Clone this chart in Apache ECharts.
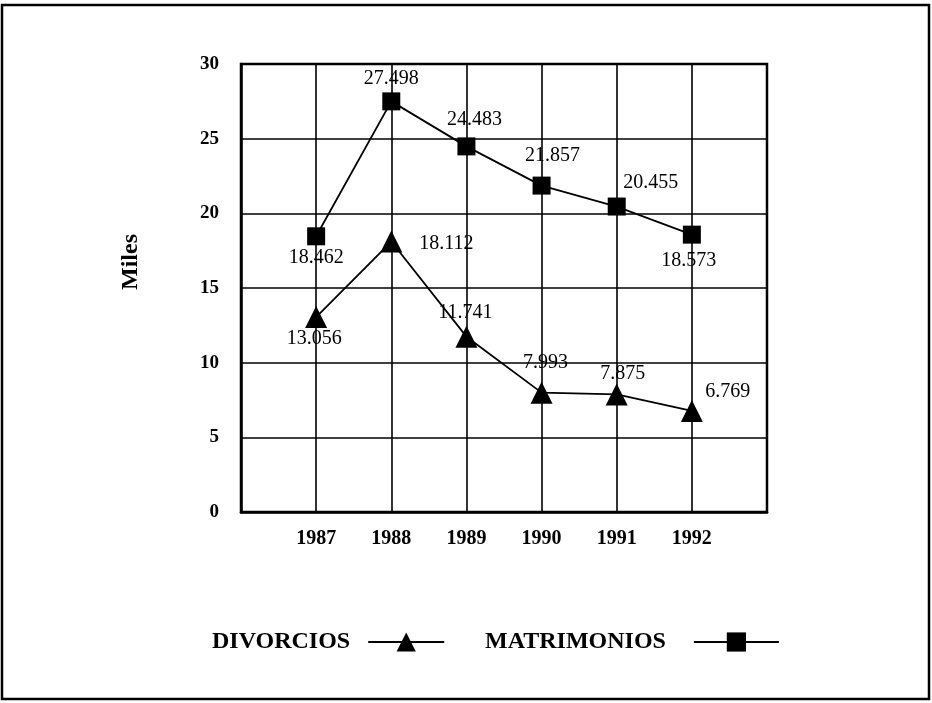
<!DOCTYPE html>
<html><head><meta charset="utf-8">
<script src="https://cdn.jsdelivr.net/npm/echarts@6/dist/echarts.min.js"></script>
<style>html,body{margin:0;padding:0;background:#fff}#c{width:932px;height:703px}</style>
</head><body><div id="c"></div>
<script>
const years = [1987, 1988, 1989, 1990, 1991, 1992];
const divorcios = [13.056, 18.112, 11.741, 7.993, 7.875, 6.769];
const matrimonios = [18.462, 27.498, 24.483, 21.857, 20.455, 18.573];
const yTicks = [0, 5, 10, 15, 20, 25, 30];
const seriesNames = ['DIVORCIOS', 'MATRIMONIOS'];

// label offsets (style only) relative to marker centre
const divOff = [[-2,22],[55,2],[-1,-24],[4,-30],[6,-21],[36,-19]];
const matOff = [[0,21],[0,-23],[8,-27],[11,-30],[34,-24],[-3,26]];
const FONT = 'Liberation Serif';

function fmt(v){ return v.toFixed(3); }
function build(vals, offs){
  return vals.map((v,i)=>({
    value:[years[i], v],
    label:{position:'inside', offset:offs[i]}
  }));
}

const legendText = {fontFamily:FONT, fontWeight:'bold', fontSize:24, color:'#000'};
const chart = echarts.init(document.getElementById('c'));
chart.setOption({
  backgroundColor:'#fff',
  animation:false,
  graphic:[{type:'rect', shape:{x:2,y:5,width:927,height:694}, style:{fill:'none', stroke:'#000', lineWidth:2.5}}],
  grid:{left:241, top:64, width:526, height:448, show:true, borderColor:'#000', borderWidth:2.5, containLabel:false},
  legend:[
    {left:207, top:625, align:'right', itemWidth:76, itemHeight:24,
     textStyle:Object.assign({padding:[0,13,0,0]}, legendText), data:[seriesNames[0]]},
    {left:480, top:625, align:'right', itemWidth:85, itemHeight:24,
     textStyle:Object.assign({padding:[0,23,0,0]}, legendText), data:[seriesNames[1]]}
  ],
  xAxis:{
    type:'value', min:1986, max:1993, interval:1,
    axisLine:{show:true, lineStyle:{color:'#000', width:2.5}},
    axisTick:{show:false},
    splitLine:{show:true, lineStyle:{color:'#000', width:1.6}},
    axisLabel:{margin:17, fontFamily:FONT, fontWeight:'bold', fontSize:20, color:'#000',
      formatter:v => years.indexOf(v) >= 0 ? String(v) : ''}
  },
  yAxis:{
    type:'value', min:yTicks[0], max:yTicks[yTicks.length-1], interval:5,
    name:'Miles', nameLocation:'middle', nameRotate:90, nameGap:98,
    nameTextStyle:{fontFamily:FONT, fontWeight:'bold', fontSize:24, color:'#000', padding:[0,0,0,52]},
    axisLine:{show:true, lineStyle:{color:'#000', width:2.5}},
    axisTick:{show:false},
    splitLine:{show:true, lineStyle:{color:'#000', width:1.6}},
    axisLabel:{margin:22, fontFamily:FONT, fontWeight:'bold', fontSize:19, color:'#000'}
  },
  series:[
    {name:seriesNames[0], type:'line', symbol:'triangle', symbolSize:22,
     itemStyle:{color:'#000'}, lineStyle:{color:'#000', width:1.8},
     label:{show:true, fontFamily:FONT, fontSize:20, color:'#000', formatter:p=>fmt(p.value[1])},
     data:build(divorcios, divOff)},
    {name:seriesNames[1], type:'line', symbol:'rect', symbolSize:18,
     itemStyle:{color:'#000'}, lineStyle:{color:'#000', width:1.8},
     label:{show:true, fontFamily:FONT, fontSize:20, color:'#000', formatter:p=>fmt(p.value[1])},
     data:build(matrimonios, matOff)}
  ]
});
</script></body></html>
